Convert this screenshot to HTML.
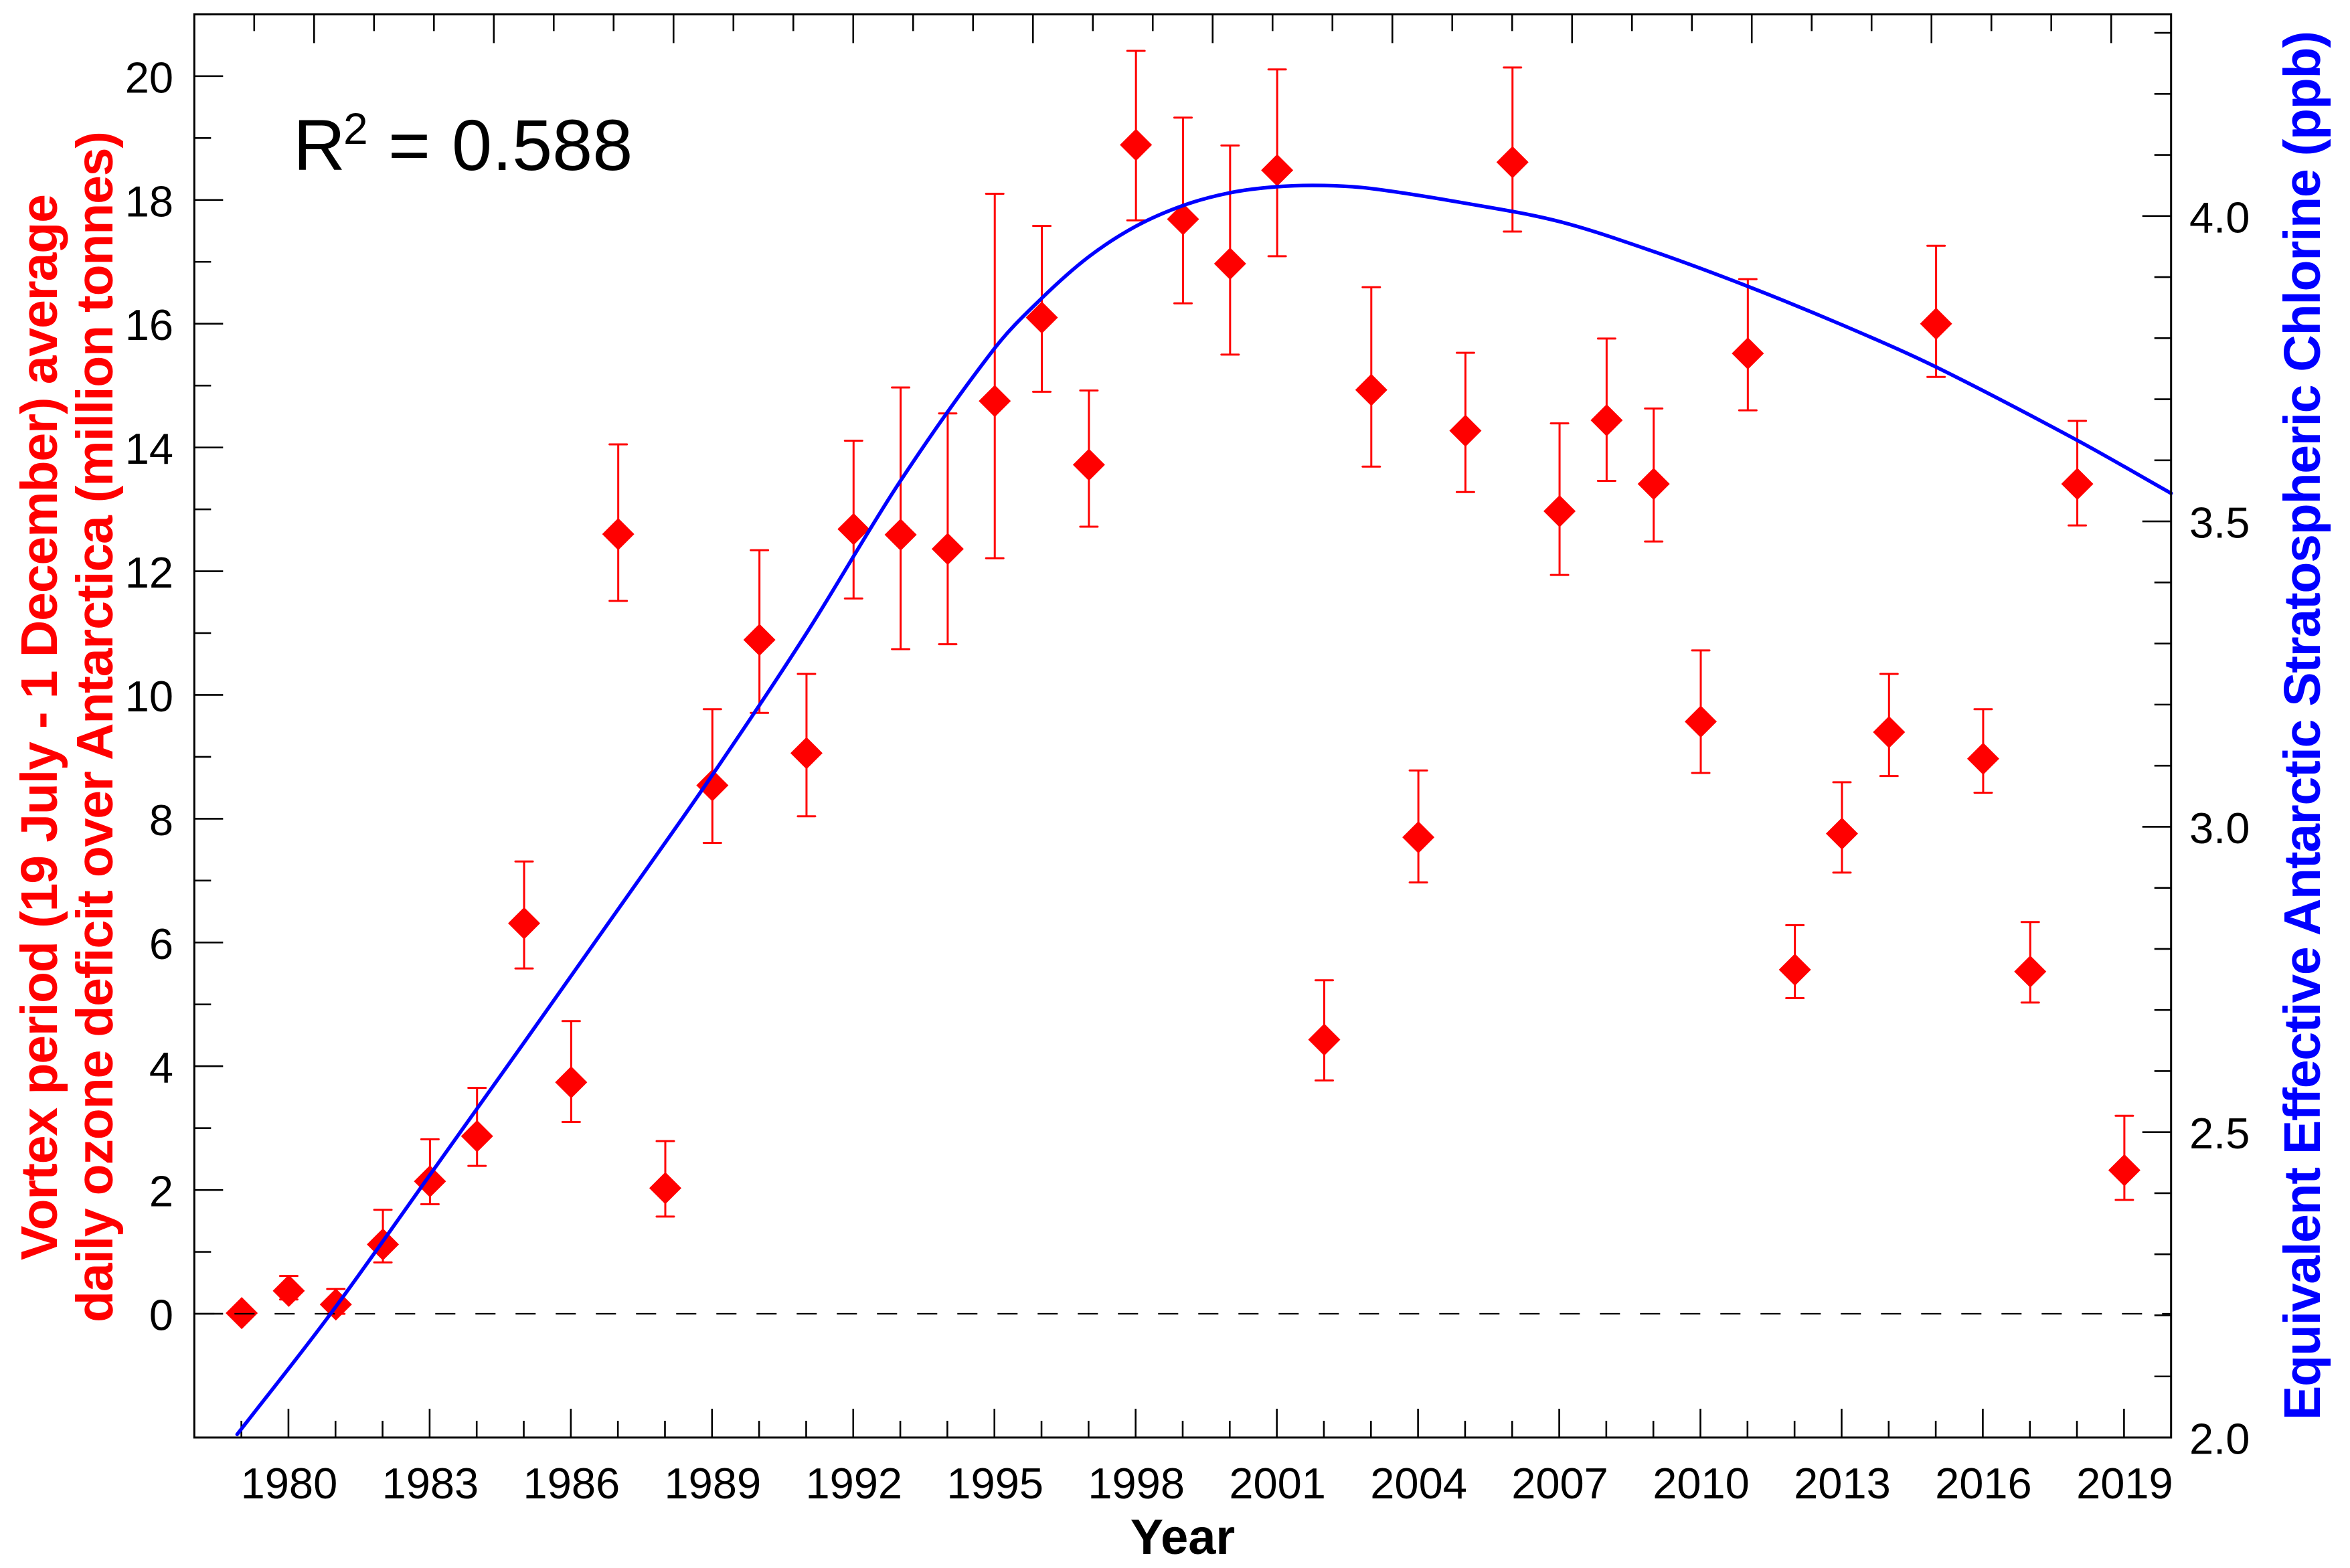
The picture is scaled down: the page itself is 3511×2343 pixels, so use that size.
<!DOCTYPE html>
<html lang="en">
<head>
<meta charset="utf-8">
<title>Antarctic ozone deficit and EESC</title>
<style>
html,body{margin:0;padding:0;background:#fff;}
svg{display:block;font-family:"Liberation Sans",Arial,sans-serif;}
</style>
</head>
<body>
<svg id="chart" xmlns="http://www.w3.org/2000/svg" width="3511" height="2343" viewBox="0 0 3511 2343">
  <rect x="0" y="0" width="3511" height="2343" fill="#ffffff"/>
  <g id="ticks"></g>
  <g id="labels"></g>
  <g id="errors"></g>
  <g id="markers"></g>
  <g id="zero"></g>
  <path id="curve" fill="none" stroke="#0000ff" stroke-width="5.4" stroke-linecap="round" stroke-linejoin="round"/>
  <rect id="frame" fill="none" stroke="#000000" stroke-width="3"/>
  <text x="438" y="254" font-size="108" fill="#000">R</text>
  <text x="513" y="215" font-size="66" fill="#000">2</text>
  <text x="580" y="254" font-size="108" fill="#000">=</text>
  <text x="675" y="254" font-size="108" fill="#000">0.588</text>
  <text x="1767" y="2322" font-size="74" font-weight="bold" text-anchor="middle" fill="#000">Year</text>
  <text transform="translate(85,1883) rotate(-90)" font-size="77" font-weight="bold" fill="#ff0000" textLength="1593" lengthAdjust="spacing">Vortex period (19 July - 1 December) average</text>
  <text transform="translate(168,1976) rotate(-90)" font-size="77" font-weight="bold" fill="#ff0000" textLength="1780" lengthAdjust="spacing">daily ozone deficit over Antarctica (million tonnes)</text>
  <text transform="translate(3466,2122) rotate(-90)" font-size="77" font-weight="bold" fill="#0000ff" textLength="2076" lengthAdjust="spacing">Equivalent Effective Antarctic Stratospheric Chlorine (ppb)</text>
</svg>
<script>
// ---- chart data ----
var years = [1979,1980,1981,1982,1983,1984,1985,1986,1987,1988,1989,1990,1991,1992,1993,1994,1995,1996,1997,1998,1999,2000,2001,2002,2003,2004,2005,2006,2007,2008,2009,2010,2011,2012,2013,2014,2015,2016,2017,2018,2019];
var deficit = [0.01,0.37,0.15,1.12,2.14,2.87,6.31,3.74,12.6,2.03,8.54,10.89,9.06,12.68,12.59,12.36,14.75,16.1,13.72,18.89,17.69,16.97,18.48,4.43,14.93,7.7,14.27,18.61,12.97,14.44,13.41,9.57,15.52,5.56,7.76,9.4,16.0,8.97,5.53,13.41,2.32];
var deficitHigh = [0.06,0.61,0.4,1.68,2.82,3.65,7.31,4.73,14.05,2.79,9.77,12.34,10.34,14.11,14.97,14.55,18.1,17.58,14.92,20.41,19.33,18.88,20.11,5.39,16.59,8.78,15.53,20.14,14.39,15.76,14.63,10.72,16.72,6.28,8.59,10.34,17.26,9.77,6.33,14.43,3.2];
var deficitLow = [-0.02,0.23,0.0,0.83,1.77,2.39,5.58,3.1,11.52,1.57,7.61,9.71,8.04,11.56,10.74,10.82,12.21,14.9,12.72,17.67,16.33,15.5,17.09,3.77,13.69,6.97,13.28,17.49,11.94,13.46,12.48,8.74,14.6,5.1,7.13,8.69,15.14,8.42,5.03,12.74,1.84];
var curveYears = [1978.91,1980.9,1983.08,1985,1987.07,1989,1991,1993,1995,1996,1997,1998,1999,2000,2001,2002,2003,2005,2007,2009,2011,2013,2015,2018,2020];
var curveEesc = [2.005,2.203,2.438,2.646,2.872,3.084,3.316,3.566,3.783,3.865,3.933,3.983,4.017,4.038,4.048,4.05,4.045,4.021,3.991,3.942,3.885,3.822,3.753,3.633,3.546];
var leftTickLabels = ["0","2","4","6","8","10","12","14","16","18","20"];
var rightTickLabels = ["2.0","2.5","3.0","3.5","4.0"];
var xTickLabels = ["1980","1983","1986","1989","1992","1995","1998","2001","2004","2007","2010","2013","2016","2019"];

// ---- axis functions ----
var plotLeft = 290.3, plotRight = 3243.7, plotTop = 21.4, plotBottom = 2148;
function xScale(y){ return plotLeft + (y - 1978) / (2020 - 1978) * (plotRight - plotLeft); }
function yLeft(v){ return plotBottom - (v + 2) / 23 * (plotBottom - plotTop); }
function yRight(v){ return plotBottom - (v - 2) * 912.6; }
function topX(k){ return plotLeft + k / 33 * (plotRight - plotLeft); }

var NS = "http://www.w3.org/2000/svg";
function make(tag, parent, attrs){
  var el = document.createElementNS(NS, tag);
  for (var k in attrs) el.setAttribute(k, attrs[k]);
  parent.appendChild(el);
  return el;
}
var gTicks = document.getElementById("ticks");
var gLabels = document.getElementById("labels");
var gErrors = document.getElementById("errors");
var gMarkers = document.getElementById("markers");
var gZero = document.getElementById("zero");

var frame = document.getElementById("frame");
frame.setAttribute("x", plotLeft);
frame.setAttribute("y", plotTop);
frame.setAttribute("width", plotRight - plotLeft);
frame.setAttribute("height", plotBottom - plotTop);

var MAJOR = 43, MINOR = 25, TICK_W = 2.6;

// left axis ticks
for (var v = 0; v <= 21; v++) {
  var len = v % 2 === 0 ? MAJOR : MINOR;
  var t = make("line", gTicks, {x1: plotLeft, x2: plotLeft + len, y1: yLeft(v), y2: yLeft(v), stroke: "#000", "stroke-width": TICK_W});
  
  
}
leftTickLabels.forEach(function(s){
  var el = make("text", gLabels, {x: 259, y: yLeft(parseFloat(s)) + 24.5, "font-size": 65, "text-anchor": "end", fill: "#000"});
  el.textContent = s;
  
  
});

// right axis ticks
for (var i = 0; i <= 23; i++) {
  var rv = 2 + i / 10;
  var rlen = i % 5 === 0 ? MAJOR : MINOR;
  var rt = make("line", gTicks, {x1: plotRight - rlen, x2: plotRight, y1: yRight(rv), y2: yRight(rv), stroke: "#000", "stroke-width": TICK_W});
  
  
}
rightTickLabels.forEach(function(s){
  var el = make("text", gLabels, {x: 3271, y: yRight(parseFloat(s)) + 24.5, "font-size": 65, fill: "#000"});
  el.textContent = s;
  
  
});

// bottom axis ticks
for (var yr = 1979; yr <= 2019; yr++) {
  var blen = (yr - 1980) % 3 === 0 ? MAJOR : MINOR;
  var bt = make("line", gTicks, {x1: xScale(yr), x2: xScale(yr), y1: plotBottom - blen, y2: plotBottom, stroke: "#000", "stroke-width": TICK_W});
  
  
}
xTickLabels.forEach(function(s){
  var el = make("text", gLabels, {x: xScale(parseFloat(s)) + 1, y: 2239, "font-size": 65, "text-anchor": "middle", fill: "#000"});
  el.textContent = s;
  
  
});

// top axis ticks
for (var k = 1; k <= 32; k++) {
  var tlen = k % 3 === 2 ? MAJOR : MINOR;
  var tt = make("line", gTicks, {x1: topX(k), x2: topX(k), y1: plotTop, y2: plotTop + tlen, stroke: "#000", "stroke-width": TICK_W});
  
  
}

// error bars and markers
years.forEach(function(y, i){
  var x = xScale(y) + 0.5;
  var hi = yLeft(deficitHigh[i]), lo = yLeft(deficitLow[i]), c = yLeft(deficit[i]);
  var stem = make("line", gErrors, {x1: x, x2: x, y1: hi, y2: lo, stroke: "#ff0000", "stroke-width": 3});
  
  
  var capHi = make("line", gErrors, {x1: x - 13, x2: x + 13, y1: hi, y2: hi, stroke: "#ff0000", "stroke-width": 3, "stroke-linecap": "round"});
  
  
  var capLo = make("line", gErrors, {x1: x - 13, x2: x + 13, y1: lo, y2: lo, stroke: "#ff0000", "stroke-width": 3, "stroke-linecap": "round"});
  
  
  var m = make("polygon", gMarkers, {points: [x - 24, c, x, c - 24, x + 24, c, x, c + 24].join(" "), fill: "#ff0000"});
  
  
});

// zero line
var z = make("line", gZero, {x1: plotLeft, x2: plotRight, y1: yLeft(0), y2: yLeft(0), stroke: "#000", "stroke-width": 2.4, "stroke-dasharray": "30 30"});



// EESC curve: cubic Hermite spline through the read points, tangents scaled for uneven year spacing
var pts = curveYears.map(function(y, i){ return [xScale(y), yRight(curveEesc[i])]; });
function slope(i){
  var a = pts[Math.max(i - 1, 0)], b = pts[Math.min(i + 1, pts.length - 1)];
  return (b[1] - a[1]) / (b[0] - a[0]);
}
var d = "M" + pts[0][0].toFixed(1) + " " + pts[0][1].toFixed(1);
for (var n = 0; n < pts.length - 1; n++) {
  var p1 = pts[n], p2 = pts[n + 1], h = (p2[0] - p1[0]) / 3;
  d += "C" + (p1[0] + h).toFixed(1) + " " + (p1[1] + slope(n) * h).toFixed(1) + " " + (p2[0] - h).toFixed(1) + " " + (p2[1] - slope(n + 1) * h).toFixed(1) + " " + p2[0].toFixed(1) + " " + p2[1].toFixed(1);
}
document.getElementById("curve").setAttribute("d", d);
</script>
</body>
</html>
